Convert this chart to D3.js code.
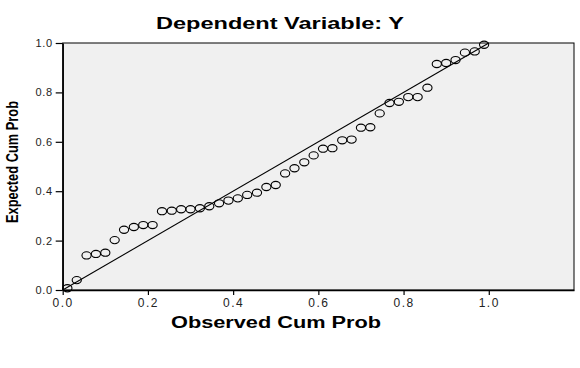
<!DOCTYPE html>
<html>
<head>
<meta charset="utf-8">
<script src="https://cdn.jsdelivr.net/npm/d3@7"></script>
<style>
  body { margin: 0; background: #fff; }
  svg { display: block; }
</style>
</head>
<body>
<svg id="canvas" width="580" height="368"></svg>
<script>
// observed cum prob (x) and expected cum prob (y)
let observed = [0.011, 0.033, 0.056, 0.078, 0.100, 0.122, 0.144, 0.167, 0.189, 0.211,
                0.233, 0.256, 0.278, 0.300, 0.322, 0.344, 0.367, 0.389, 0.411, 0.433,
                0.456, 0.478, 0.500, 0.522, 0.544, 0.567, 0.589, 0.611, 0.633, 0.656,
                0.678, 0.700, 0.722, 0.744, 0.767, 0.789, 0.811, 0.833, 0.856, 0.878,
                0.900, 0.922, 0.944, 0.967, 0.989];
let expected = [0.007, 0.040, 0.140, 0.146, 0.151, 0.202, 0.244, 0.255, 0.263, 0.263,
                0.319, 0.321, 0.327, 0.327, 0.331, 0.339, 0.351, 0.362, 0.371, 0.385,
                0.394, 0.417, 0.425, 0.472, 0.493, 0.517, 0.545, 0.572, 0.574, 0.606,
                0.609, 0.657, 0.659, 0.715, 0.757, 0.762, 0.781, 0.781, 0.819, 0.915,
                0.919, 0.931, 0.961, 0.966, 0.993];
let xTicks = [0, 0.2, 0.4, 0.6, 0.8, 1.0];
let yTicks = [0, 0.2, 0.4, 0.6, 0.8, 1.0];
let refLine = [0, 1];

let title = 'Dependent Variable: Y';
let xTitle = 'Observed Cum Prob';
let yTitle = 'Expected Cum Prob';

let canvas = d3.select('#canvas');

let plotLeft = 62.7, plotTop = 43, plotRight = 574, plotBottom = 290;

let xScale = d3.scaleLinear().domain([0, 1.2]).range([plotLeft, plotRight]);
let yScale = d3.scaleLinear().domain([0, 1]).range([plotBottom, plotTop]);

// plot background
canvas.append('rect')
    .attr('x', plotLeft)
    .attr('y', plotTop)
    .attr('width', plotRight - plotLeft)
    .attr('height', plotBottom - plotTop)
    .attr('fill', '#f0f0f0')
    .attr('stroke', '#000')
    .attr('stroke-width', 1);

// diagonal reference
canvas.append('line')
    .attr('x1', xScale(refLine[0]))
    .attr('y1', yScale(refLine[0]))
    .attr('x2', xScale(refLine[1]))
    .attr('y2', yScale(refLine[1]))
    .attr('stroke', '#000')
    .attr('stroke-width', 1.1);

let points = observed.map((d, i) => [d, expected[i]]);

canvas.selectAll('ellipse.pt')
    .data(points)
    .enter()
    .append('ellipse')
    .attr('class', 'pt')
    .attr('cx', (d) => xScale(d[0]))
    .attr('cy', (d) => yScale(d[1]))
    .attr('rx', 4.6)
    .attr('ry', 3.6)
    .attr('fill', 'none')
    .attr('stroke', '#000')
    .attr('stroke-width', 1.1);

// axes
let xAxis = d3.axisBottom(xScale)
    .tickValues(xTicks)
    .tickFormat(d3.format('.1f'))
    .tickSize(5)
    .tickSizeOuter(0);
let gx = canvas.append('g')
    .attr('transform', 'translate(0,' + plotBottom + ')')
    .call(xAxis);
gx.select('.domain').attr('stroke', '#000').attr('stroke-width', 1.5);
gx.selectAll('.tick line').attr('stroke', '#000').attr('stroke-width', 1.2);
gx.selectAll('.tick text')
    .attr('dy', '0.9em')
    .attr('y', 6)
    .attr('font-family', 'Liberation Sans, Arial, sans-serif')
    .attr('font-size', 12)
    .attr('letter-spacing', 1.5)
    .attr('fill', '#222');

let yAxis = d3.axisLeft(yScale)
    .tickValues(yTicks)
    .tickFormat(d3.format('.1f'))
    .tickSize(7)
    .tickSizeOuter(0);
let gy = canvas.append('g')
    .attr('transform', 'translate(' + plotLeft + ',0)')
    .call(yAxis);
gy.select('.domain').attr('stroke', '#000').attr('stroke-width', 1.5);
gy.selectAll('.tick line').attr('stroke', '#000').attr('stroke-width', 1.2);
gy.selectAll('.tick text')
    .attr('x', -10)
    .attr('font-family', 'Liberation Sans, Arial, sans-serif')
    .attr('font-size', 11)
    .attr('letter-spacing', 0.6)
    .attr('fill', '#222');

// titles
canvas.append('text')
    .attr('x', 280)
    .attr('y', 29)
    .attr('text-anchor', 'middle')
    .attr('font-family', 'Liberation Sans, Arial, sans-serif')
    .attr('font-weight', 'bold')
    .attr('font-size', 16)
    .attr('textLength', 248)
    .attr('lengthAdjust', 'spacingAndGlyphs')
    .text(title);

canvas.append('text')
    .attr('x', 276)
    .attr('y', 328)
    .attr('text-anchor', 'middle')
    .attr('font-family', 'Liberation Sans, Arial, sans-serif')
    .attr('font-weight', 'bold')
    .attr('font-size', 16)
    .attr('textLength', 210)
    .attr('lengthAdjust', 'spacingAndGlyphs')
    .text(xTitle);

canvas.append('text')
    .attr('transform', 'translate(18,162) rotate(-90)')
    .attr('text-anchor', 'middle')
    .attr('font-family', 'Liberation Sans Narrow, Arial Narrow, sans-serif')
    .attr('font-weight', 'bold')
    .attr('font-size', 17)
    .attr('textLength', 122)
    .attr('lengthAdjust', 'spacingAndGlyphs')
    .text(yTitle);
</script>
</body>
</html>
